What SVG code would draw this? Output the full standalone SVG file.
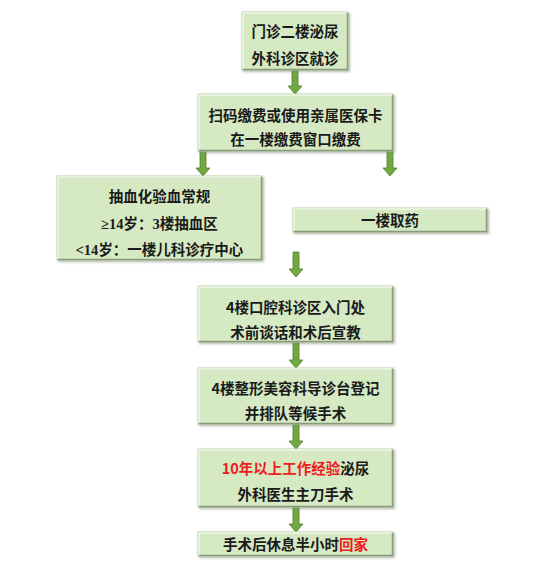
<svg xmlns="http://www.w3.org/2000/svg" width="554" height="566" viewBox="0 0 554 566">
<defs>
<style>
.bx{fill:#d5e9c3;stroke:#b9cfa6;stroke-width:1}
.hi{fill:none;stroke:#eef7e6;stroke-width:1.5}
.sh{fill:none;stroke:#8a9a7c;stroke-width:1.5}
.t{font-family:"Noto Sans CJK SC","Noto Sans",sans-serif;font-weight:bold;font-size:14.5px;fill:#1a1a1a;text-anchor:middle}
.d{font-family:"Liberation Serif",serif;font-weight:bold}
.r{fill:#ee1c1c}
.ar{fill:#70a940;stroke:#4f7d2c;stroke-width:0.8}
</style>
<filter id="ds" x="-5%" y="-5%" width="112%" height="120%">
<feDropShadow dx="1.5" dy="1.5" stdDeviation="0.8" flood-color="#7f8a76" flood-opacity="0.6"/>
</filter>
</defs>
<rect width="554" height="566" fill="#ffffff"/>
<g id="connectors">
<path class="ar" d="M292,70 h6 v16 h4 l-7,8 l-7,-8 h4 z"/>
<path class="ar" d="M200,151 h6 v17 h4 l-7,8 l-7,-8 h4 z"/>
<path class="ar" d="M387,151 h6 v17 h4 l-7,8 l-7,-8 h4 z"/>
<path class="ar" d="M293,252 h6 v17 h4 l-7,8 l-7,-8 h4 z"/>
<path class="ar" d="M293,342 h6 v18 h4 l-7,8 l-7,-8 h4 z"/>
<path class="ar" d="M293,424 h6 v17 h4 l-7,8 l-7,-8 h4 z"/>
<path class="ar" d="M293,507 h6 v17 h4 l-7,8 l-7,-8 h4 z"/>
</g>
<g id="n1">
<rect class="bx" x="242" y="12" width="106" height="58" filter="url(#ds)"/>
<polyline class="hi" points="243,69 243,13 347,13"/>
<polyline class="sh" points="243,69.5 347.5,69.5 347.5,13"/>
<text class="t" x="295" y="37">门诊二楼泌尿</text>
<text class="t" x="295" y="64">外科诊区就诊</text>
</g>
<g id="n2">
<rect class="bx" x="198" y="94" width="195" height="57" filter="url(#ds)"/>
<polyline class="hi" points="199,150 199,95 392,95"/>
<polyline class="sh" points="199,150.5 392.5,150.5 392.5,95"/>
<text class="t" x="295.5" y="121">扫码缴费或使用亲属医保卡</text>
<text class="t" x="295.5" y="145">在一楼缴费窗口缴费</text>
</g>
<g id="n3">
<rect class="bx" x="57" y="176" width="205" height="84" filter="url(#ds)"/>
<polyline class="hi" points="58,259 58,177 261,177"/>
<polyline class="sh" points="58,259.5 261.5,259.5 261.5,177"/>
<text class="t" x="159.5" y="202">抽血化验血常规</text>
<text class="t" x="159.5" y="229"><tspan class="d">≥14</tspan>岁：<tspan class="d">3</tspan>楼抽血区</text>
<text class="t" x="159.5" y="255"><tspan class="d">&lt;14</tspan>岁：一楼儿科诊疗中心</text>
</g>
<g id="n4">
<rect class="bx" x="293" y="208" width="194" height="24" filter="url(#ds)"/>
<polyline class="hi" points="294,231 294,209 486,209"/>
<polyline class="sh" points="294,231.5 486.5,231.5 486.5,209"/>
<text class="t" x="390" y="226">一楼取药</text>
</g>
<g id="n5">
<rect class="bx" x="198" y="286" width="195" height="56" filter="url(#ds)"/>
<polyline class="hi" points="199,341 199,287 392,287"/>
<polyline class="sh" points="199,341.5 392.5,341.5 392.5,287"/>
<text class="t" x="295.5" y="313">4楼口腔科诊区入门处</text>
<text class="t" x="295.5" y="338">术前谈话和术后宣教</text>
</g>
<g id="n6">
<rect class="bx" x="198" y="368" width="195" height="56" filter="url(#ds)"/>
<polyline class="hi" points="199,423 199,369 392,369"/>
<polyline class="sh" points="199,423.5 392.5,423.5 392.5,369"/>
<text class="t" x="295.5" y="394">4楼整形美容科导诊台登记</text>
<text class="t" x="295.5" y="419">并排队等候手术</text>
</g>
<g id="n7">
<rect class="bx" x="198" y="449" width="195" height="58" filter="url(#ds)"/>
<polyline class="hi" points="199,506 199,450 392,450"/>
<polyline class="sh" points="199,506.5 392.5,506.5 392.5,450"/>
<text class="t" x="295.5" y="474"><tspan class="r">10年以上工作经验</tspan>泌尿</text>
<text class="t" x="295.5" y="500">外科医生主刀手术</text>
</g>
<g id="n8">
<rect class="bx" x="198" y="532" width="195" height="24" filter="url(#ds)"/>
<polyline class="hi" points="199,555 199,533 392,533"/>
<polyline class="sh" points="199,555.5 392.5,555.5 392.5,533"/>
<text class="t" x="295.5" y="550">手术后休息半小时<tspan class="r">回家</tspan></text>
</g>
</svg>
